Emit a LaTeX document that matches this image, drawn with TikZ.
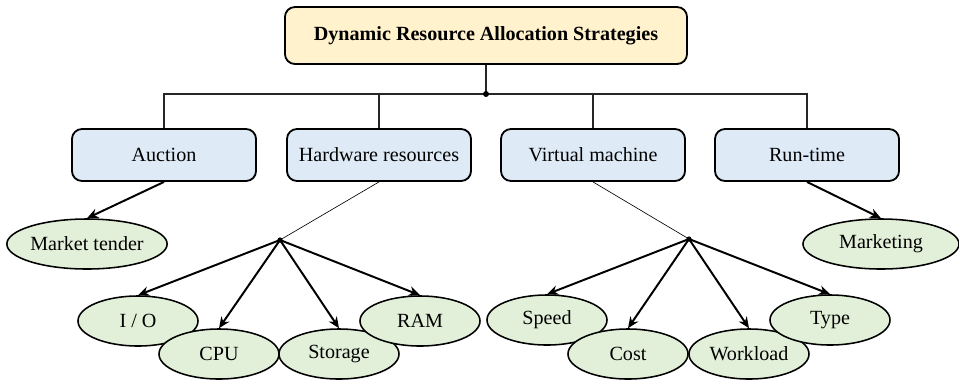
\documentclass[tikz,border=0pt]{standalone}
\usepackage{fontspec}
\setmainfont{Liberation Serif}
\usetikzlibrary{shapes.geometric, arrows.meta}

\definecolor{rootfill}{RGB}{255,242,204}
\definecolor{catfill}{RGB}{222,235,247}
\definecolor{leaffill}{RGB}{226,240,217}

\tikzset{
  catbox/.style={draw, line width=1.3pt, rounded corners=0.25cm, fill=catfill,
    minimum width=4.6cm, minimum height=1.3cm, inner sep=0pt},
  leaf/.style={ellipse, draw, line width=1.1pt, fill=leaffill,
    minimum width=3cm, minimum height=1.25cm, inner sep=0pt},
  arrow/.style={line width=1.4pt, -{Stealth[length=2.8mm, width=2.4mm]}},
  thinline/.style={line width=0.45pt},
  treeline/.style={line width=0.8pt, draw=black!85}
}

\begin{document}
\begin{tikzpicture}[x=0.025cm, y=-0.025cm, font=\fontsize{14.3}{16}\selectfont]
  \useasboundingbox (0,0) rectangle (959,384);

  \node (dras) [draw, line width=1.3pt, rounded corners=0.25cm, fill=rootfill,
    minimum width=10.05cm, minimum height=1.425cm, inner sep=0pt]
    at (486,35.5) {\textbf{Dynamic Resource Allocation Strategies}};

  \begin{scope}[every node/.style={catbox}]
    \node (auction) at (164,155) {Auction};
    \node (hw) at (379,155) {Hardware resources};
    \node (vm) at (593,155) {Virtual machine};
    \node (rt) at (807,155) {Run-time};
  \end{scope}

  \begin{scope}[every node/.style={leaf}]
    \node (mt) [minimum width=4cm] at (87,244) {Market tender};
    \node (mkt) [minimum width=3.9cm] at (881,244) {Marketing};
    \node (io) at (138,321) {I / O};
    \node (cpu) at (219,354) {CPU};
    \node (stor) at (339,354) {Storage};
    \node (ram) at (420,321) {RAM};
    \node (speed) at (547,320) {Speed};
    \node (cost) at (628,354) {Cost};
    \node (work) at (749,354) {Workload};
    \node (type) at (830,320) {Type};
  \end{scope}

  \coordinate (topdot) at (486,94);
  \coordinate (hwdot) at (280,240);
  \coordinate (vmdot) at (689,239);

  % tree from the root
  \draw[treeline] (dras.south) -- (topdot);
  \draw[treeline] (auction.north) -- (auction.north |- topdot) -- (rt.north |- topdot) -- (rt.north);
  \draw[treeline] (hw.north) -- (hw.north |- topdot);
  \draw[treeline] (vm.north) -- (vm.north |- topdot);
  \fill (topdot) circle (3);

  \draw[thinline] (hw.south) -- (hwdot);
  \draw[thinline] (vm.south) -- (vmdot);
  \fill (hwdot) circle (2.6);
  \fill (vmdot) circle (2.6);

  \draw[arrow] (auction.south) -- (mt.north);
  \draw[arrow] (rt.south) -- (mkt.north);

  \draw[arrow] (hwdot) -- (io.north);
  \draw[arrow] (hwdot) -- (cpu.north);
  \draw[arrow] (hwdot) -- (stor.north);
  \draw[arrow] (hwdot) -- (ram.north);

  \draw[arrow] (vmdot) -- (speed.north);
  \draw[arrow] (vmdot) -- (cost.north);
  \draw[arrow] (vmdot) -- (work.north);
  \draw[arrow] (vmdot) -- (type.north);
\end{tikzpicture}
\end{document}
